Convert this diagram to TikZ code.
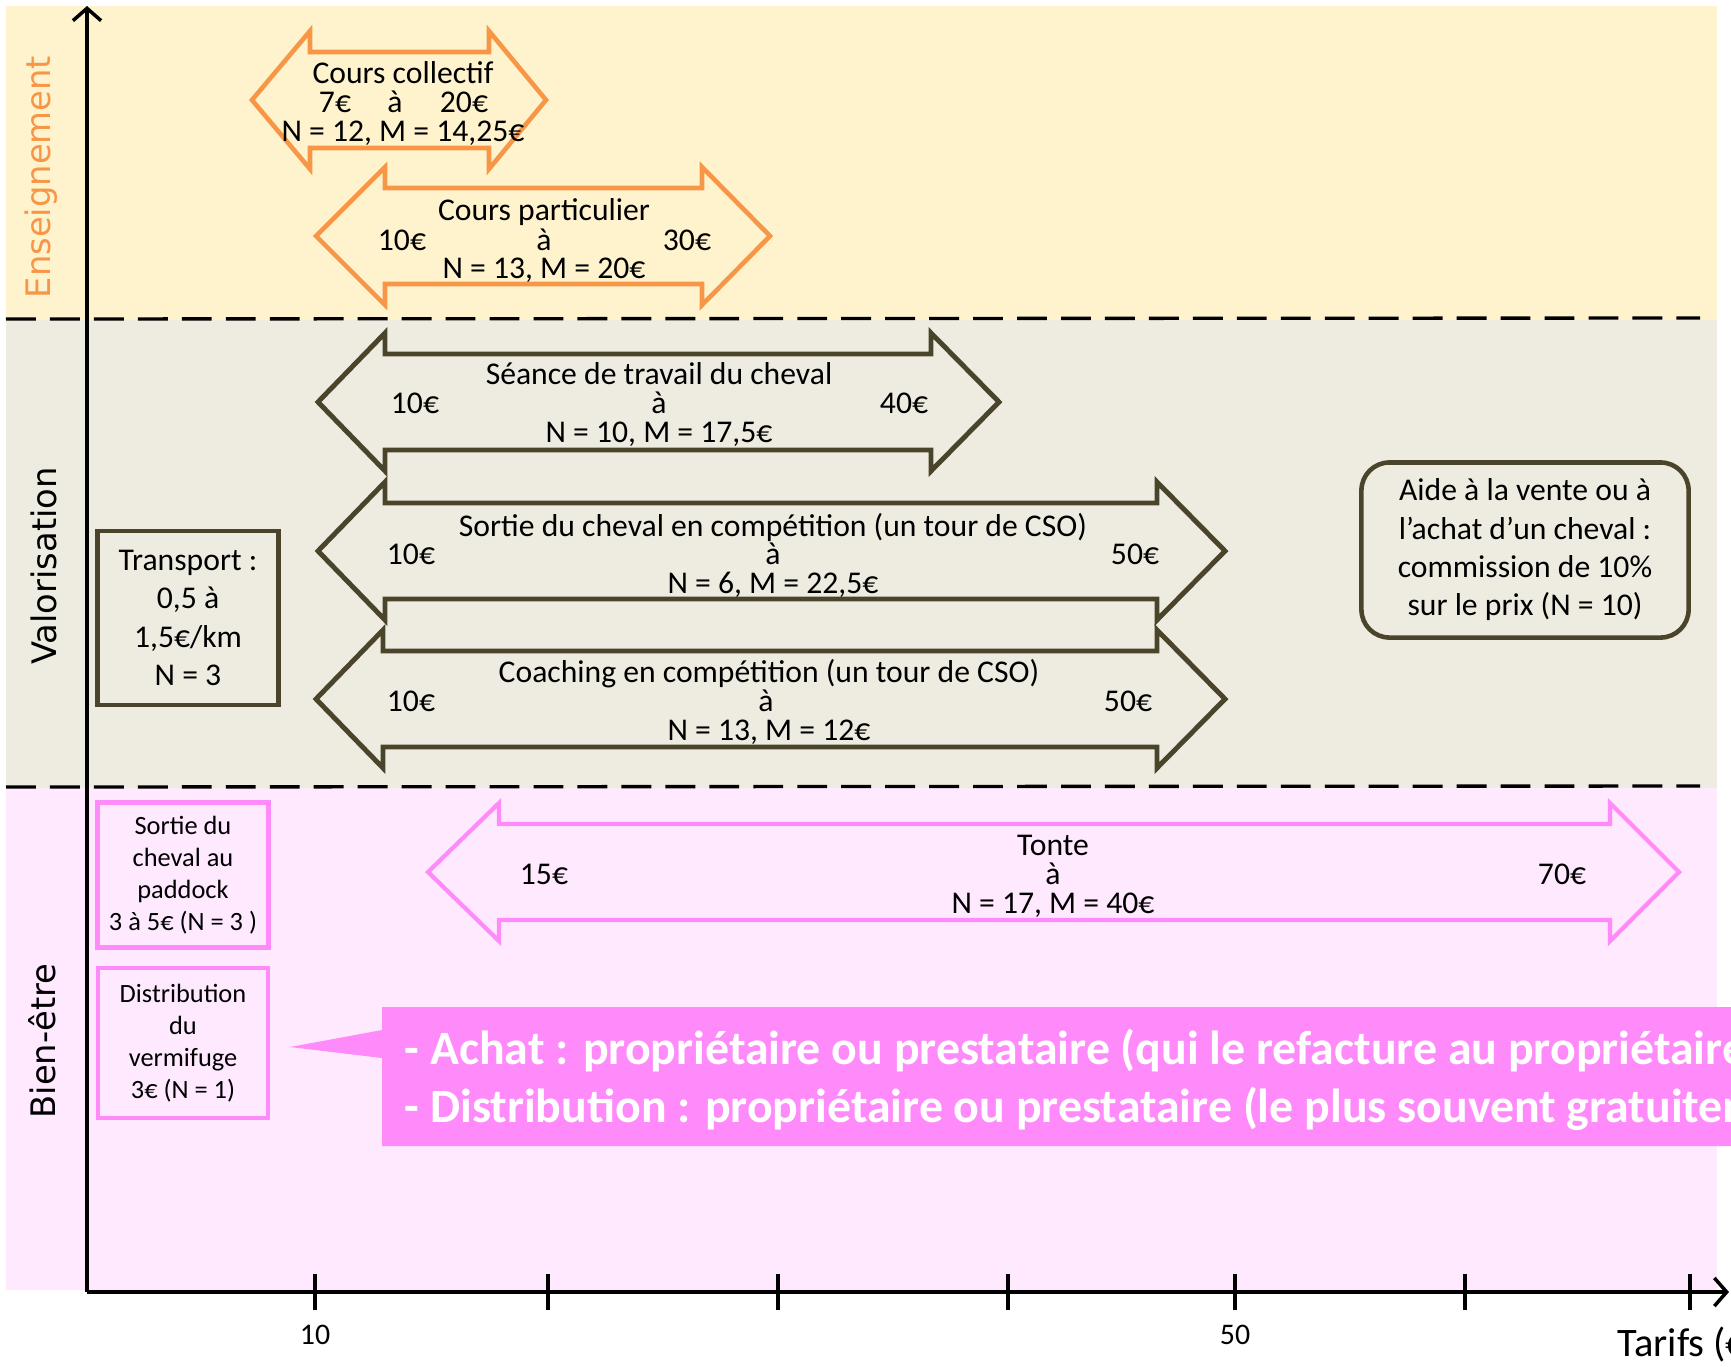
\documentclass[tikz,border=0pt]{standalone}
\usepackage{fontspec}
\setmainfont{Carlito}
\newfontfamily\sidefont{DejaVu Sans}
\usetikzlibrary{arrows.meta}

\definecolor{orangeE}{RGB}{247,150,70}
\definecolor{fondE}{RGB}{255,243,206}
\definecolor{fondV}{RGB}{238,236,225}
\definecolor{fondB}{RGB}{255,233,255}
\definecolor{brunV}{RGB}{74,69,42}
\definecolor{roseB}{RGB}{255,138,250}

% double fleche : style, pointe g., base g., base d., pointe d., y du centre
\newcommand{\doublefleche}[6]{%
  \draw[#1] (#2,#6) -- (#3,#6-69) -- (#3,#6-48) -- (#4,#6-48) -- (#4,#6-69)
    -- (#5,#6) -- (#4,#6+69) -- (#4,#6+48) -- (#3,#6+48) -- (#3,#6+69) -- cycle;}

\tikzset{
  prix/.style={inner sep=0pt, anchor=base, font=\fontsize{9}{9}\selectfont},
  cadrebrun/.style={draw=brunV, line width=1.3pt, align=center, inner sep=0pt,
    font=\fontsize{9}{10.9}\selectfont},
  cadrerose/.style={draw=roseB, line width=1.3pt, fill=fondB, align=center, inner sep=0pt,
    font=\fontsize{7.5}{9.1}\selectfont},
  categorie/.style={rotate=90, inner sep=0pt, font=\sidefont\fontsize{9.6}{11}\selectfont},
  separation/.style={line width=0.95pt, dash pattern=on 8.5pt off 4pt},
  axe/.style={line width=1pt},
  graduation/.style={inner sep=0pt, anchor=base, font=\fontsize{8.5}{9}\selectfont},
  flecheE/.style={draw=orangeE, line width=1.3pt, line join=miter},
  flecheV/.style={draw=brunV, line width=1.4pt, line join=miter},
  flecheB/.style={draw=roseB, line width=1.2pt, line join=miter},
  bulle/.style={inner sep=0pt, text=white, font=\fontsize{13.6}{16.5}\selectfont\bfseries}
}

\begin{document}
\begin{tikzpicture}[x=0.01cm, y=-0.01cm]
\path[use as bounding box] (0,0) rectangle (1731,1366);
\clip (0,0) rectangle (1731,1366);

% bandes de fond
\fill[fondE] (6,6) rectangle (1717,320);
\fill[fondV] (6,320) rectangle (1717,788);
\fill[fondB] (6,788) rectangle (1717,1290);
\draw[separation] (6,319) -- (1700,318);
\draw[separation] (6,787) -- (1700,786);

% axes
\draw[axe, -{Straight Barb[length=3.5pt, width=8pt]}] (87,1292) -- (87,6);
\draw[axe, -{Straight Barb[length=3.5pt, width=8pt]}] (87,1292) -- (1729,1292);
\foreach \x in {315,548,778,1008,1235,1465,1690}
  \draw[axe] (\x,1274) -- (\x,1310);
\node[graduation] (g10) at (315,1344) {10};
\node[graduation] (g50) at (1235,1344) {50};
\node[prix, anchor=base west, font=\fontsize{11.5}{12}\selectfont] (tarifs) at (1617,1356) {Tarifs (€)};

% categories
\node[categorie, text=orangeE] (ens) at (41,177) {Enseignement};
\node[categorie] (valo) at (44,566) {Valorisation};
\node[categorie] (bien) at (42,1041) {Bien-être};

% enseignement
\doublefleche{flecheE}{252}{310}{489}{546}{100}
\node[prix] (cc) at (403,83) {Cours collectif};
\node[prix] (cc-min) at (335,112) {7€};
\node[prix] (cc-a) at (395,112) {à};
\node[prix] (cc-max) at (464,112) {20€};
\node[prix] (cc-n) at (403,141) {N = 12, M = 14,25€};

\doublefleche{flecheE}{316}{385}{702}{770}{236}
\node[prix] (cp) at (544,220) {Cours particulier};
\node[prix] (cp-min) at (402,250) {10€};
\node[prix] (cp-a) at (544,250) {à};
\node[prix] (cp-max) at (687,250) {30€};
\node[prix] (cp-n) at (544,278) {N = 13, M = 20€};

% valorisation
\doublefleche{flecheV}{318}{385}{931}{999}{402}
\node[prix] (st) at (659,384) {Séance de travail du cheval};
\node[prix] (st-min) at (415,413) {10€};
\node[prix] (st-a) at (659,413) {à};
\node[prix] (st-max) at (904,413) {40€};
\node[prix] (st-n) at (659,442) {N = 10, M = 17,5€};

\doublefleche{flecheV}{318}{385}{1157}{1225}{551}
\node[prix] (sc) at (773,536) {Sortie du cheval en compétition (un tour de CSO)};
\node[prix] (sc-min) at (411,564) {10€};
\node[prix] (sc-a) at (773,564) {à};
\node[prix] (sc-max) at (1135,564) {50€};
\node[prix] (sc-n) at (773,593) {N = 6, M = 22,5€};

\doublefleche{flecheV}{316}{383}{1157}{1225}{699}
\node[prix] (co) at (769,682) {Coaching en compétition (un tour de CSO)};
\node[prix] (co-min) at (411,711) {10€};
\node[prix] (co-a) at (766,711) {à};
\node[prix] (co-max) at (1128,711) {50€};
\node[prix] (co-n) at (769,740) {N = 13, M = 12€};

\node[cadrebrun, minimum width=1.81cm, minimum height=1.74cm] (transport) at (188,618)
  {Transport :\\0,5 à\\1,5€/km\\N = 3};
\node[cadrebrun, rounded corners=0.28cm, minimum width=3.27cm, minimum height=1.75cm] (aide) at (1525,550)
  {Aide à la vente ou à\\l’achat d’un cheval :\\commission de 10\%\\sur le prix (N = 10)};

% bien-etre
\doublefleche{flecheB}{428}{499}{1610}{1679}{872}
\node[prix] (to) at (1053,855) {Tonte};
\node[prix] (to-min) at (544,884) {15€};
\node[prix] (to-a) at (1053,884) {à};
\node[prix] (to-max) at (1562,884) {70€};
\node[prix] (to-n) at (1053,913) {N = 17, M = 40€};

\node[cadrerose, minimum width=1.71cm, minimum height=1.45cm] (paddock) at (183,875)
  {Sortie du\\cheval au\\paddock\\3 à 5€ (N = 3 )};
\node[cadrerose, minimum width=1.70cm, minimum height=1.50cm] (vermifuge) at (183,1043)
  {Distribution\\du\\vermifuge\\3€ (N = 1)};

\fill[roseB] (290,1047) -- (382,1030) -- (382,1007) -- (1740,1007) -- (1740,1146)
  -- (382,1146) -- (382,1058) -- cycle;
\node[bulle, anchor=base west] (achat) at (404,1064)
  {- Achat : propriétaire ou prestataire (qui le refacture au propriétaire)};
\node[bulle, anchor=base west] (distribution) at (404,1122)
  {- Distribution : propriétaire ou prestataire (le plus souvent gratuitement)};
\end{tikzpicture}
\end{document}
